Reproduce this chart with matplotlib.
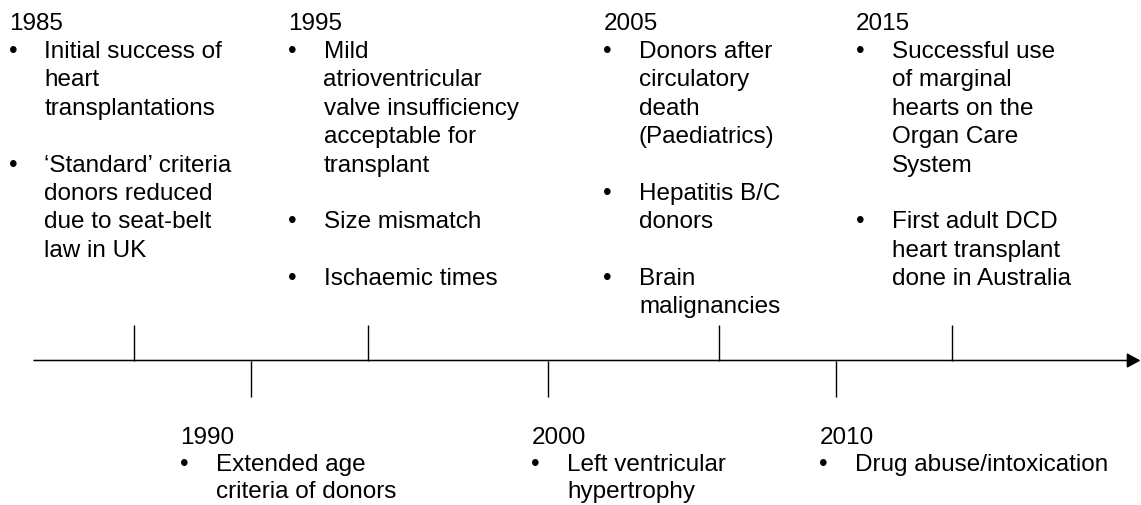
import matplotlib
matplotlib.use("Agg")
import matplotlib.pyplot as plt

# ---- data ----
years = ["1985", "1990", "1995", "2000", "2005", "2010", "2015"]
sides = ["top", "bottom", "top", "bottom", "top", "bottom", "top"]
events = [
    [["Initial success of", "heart", "transplantations"],
     ["\u2018Standard\u2019 criteria", "donors reduced", "due to seat-belt", "law in UK"]],
    [["Extended age", "criteria of donors"]],
    [["Mild", "atrioventricular", "valve insufficiency", "acceptable for", "transplant"],
     ["Size mismatch"],
     ["Ischaemic times"]],
    [["Left ventricular", "hypertrophy"]],
    [["Donors after", "circulatory", "death", "(Paediatrics)"],
     ["Hepatitis B/C", "donors"],
     ["Brain", "malignancies"]],
    [["Drug abuse/intoxication"]],
    [["Successful use", "of marginal", "hearts on the", "Organ Care", "System"],
     ["First adult DCD", "heart transplant", "done in Australia"]],
]

# ---- layout (pixel coordinates) ----
W, H = 1141, 506
tick_x = [134, 251, 368, 548, 719, 836, 952]
label_x = [9, 180, 288, 531.5, 603.5, 819.3, 856]
axis_y = 361.5
axis_x0, axis_x1 = 34, 1140.5
tick_len = 36
top_base, top_pitch = 29.5, 28.4
bot_base, bot_pitch = 444, 26.8
fs = 17.5
font = "Liberation Sans"

fig = plt.figure(figsize=(W / 100, H / 100), dpi=100)
ax = fig.add_axes([0, 0, 1, 1])
ax.set_xlim(0, W)
ax.set_ylim(H, 0)
ax.axis("off")

ax.annotate("", xy=(axis_x1, axis_y), xytext=(axis_x0, axis_y),
            arrowprops=dict(arrowstyle="-|>,head_length=0.55,head_width=0.3",
                            lw=1.1, color="black", shrinkA=0, shrinkB=0,
                            mutation_scale=15))

for yr, side, evs, tx, lx in zip(years, sides, events, tick_x, label_x):
    if side == "top":
        ax.plot([tx, tx], [axis_y - tick_len, axis_y], color="black", lw=1.0,
                solid_capstyle="butt")
        base, pitch = top_base, top_pitch
    else:
        ax.plot([tx, tx], [axis_y, axis_y + tick_len], color="black", lw=1.0,
                solid_capstyle="butt")
        base, pitch = bot_base, bot_pitch
    ax.text(lx, base, yr, fontsize=fs, family=font, va="baseline", ha="left")
    row = 1
    for item in evs:
        ax.text(lx + 4, base + row * pitch, "\u2022", fontsize=fs, family=font,
                va="baseline", ha="center")
        for line in item:
            ax.text(lx + 35.5, base + row * pitch, line, fontsize=fs, family=font,
                    va="baseline", ha="left")
            row += 1
        row += 1

fig.savefig("out.png", dpi=100, facecolor="white")
